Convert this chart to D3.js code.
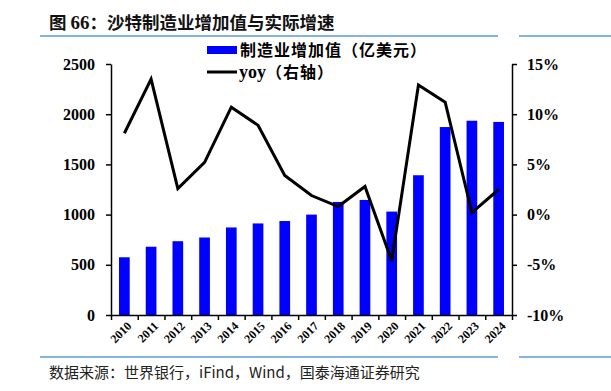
<!DOCTYPE html>
<html>
<head>
<meta charset="utf-8">
<script src="https://cdn.jsdelivr.net/npm/d3@7"></script>
<style>
  body { margin: 0; background: #fff; }
  svg { display: block; }
</style>
</head>
<body>
<svg id="chart" width="611" height="391"></svg>
<script>
// data
var years = ["2010","2011","2012","2013","2014","2015","2016","2017","2018","2019","2020","2021","2022","2023","2024"];
var addedValue = [575, 680, 735, 772, 872, 912, 936, 1000, 1126, 1146, 1030, 1392, 1872, 1935, 1923];
var yoy = [8.1, 13.5, 2.6, 5.2, 10.7, 8.9, 3.9, 1.9, 0.8, 2.8, -4.6, 12.9, 11.2, 0.2, 2.5];
var leftTicks = [0, 500, 1000, 1500, 2000, 2500];
var rightTicks = [-10, -5, 0, 5, 10, 15];

var svg = d3.select("#chart");
var plotLeft = 111, plotRight = 512, plotTop = 64, plotBottom = 315;

var x = d3.scaleBand().domain(years).range([plotLeft, plotRight]).paddingInner(0.6).paddingOuter(0.3);
var xTicks = d3.scaleLinear().domain([0, years.length]).range([plotLeft, plotRight]);
var yL = d3.scaleLinear().domain([0, 2500]).range([plotBottom, plotTop]);
var yR = d3.scaleLinear().domain([-10, 15]).range([plotBottom, plotTop]);

var numFont = "'Liberation Serif', 'Times New Roman', serif";
var cjkFont = "'Noto Sans CJK SC', sans-serif";

// title and rules
var title = svg.append("text")
	.attr("x", 49).attr("y", 29)
	.attr("font-family", cjkFont)
	.attr("font-weight", "bold")
	.attr("font-size", "17.5px")
	.attr("fill", "#111");
title.append("tspan").text("图 ");
title.append("tspan").attr("font-family", numFont).attr("font-size", "19px").text("66");
title.append("tspan").text("：沙特制造业增加值与实际增速");

[[40, 498], [519, 611]].forEach(function(seg){
	svg.append("line").attr("x1", seg[0]).attr("x2", seg[1]).attr("y1", 36).attr("y2", 36)
		.attr("stroke", "#5B9BD5").attr("stroke-width", 1.5);
	svg.append("line").attr("x1", seg[0]).attr("x2", seg[1]).attr("y1", 357).attr("y2", 357)
		.attr("stroke", "#5B9BD5").attr("stroke-width", 1.5);
});

svg.append("text")
	.attr("x", 49).attr("y", 378)
	.attr("font-family", cjkFont)
	.attr("font-size", "15px")
	.attr("fill", "#222")
	.text("数据来源：世界银行，iFind，Wind，国泰海通证券研究");

// bars
svg.selectAll(".bar").data(addedValue).enter()
	.append("rect")
	.attr("class", "bar")
	.attr("x", function(d, i){ return x(years[i]); })
	.attr("y", function(d){ return yL(d); })
	.attr("width", x.bandwidth())
	.attr("height", function(d){ return plotBottom - yL(d); })
	.attr("fill", "#0000FF");

// yoy line
var line = d3.line()
	.x(function(d, i){ return x(years[i]) + x.bandwidth() / 2; })
	.y(function(d){ return yR(d); });

svg.append("path")
	.datum(yoy)
	.attr("d", line)
	.attr("fill", "none")
	.attr("stroke", "#000")
	.attr("stroke-width", 3)
	.attr("stroke-linejoin", "miter");

// axes
function styleAxis(g){
	g.select(".domain").attr("stroke", "#000").attr("stroke-width", 1.5);
	g.selectAll(".tick line").attr("stroke", "#000").attr("stroke-width", 1.5);
	g.selectAll("text")
		.attr("font-family", numFont)
		.attr("font-weight", "bold")
		.attr("font-size", "16px")
		.attr("fill", "#000");
}

svg.append("g")
	.attr("transform", "translate(" + plotLeft + ",0)")
	.call(d3.axisLeft(yL).tickValues(leftTicks).tickSize(5).tickSizeOuter(0).tickPadding(11)
		.tickFormat(d3.format("d")))
	.call(styleAxis);

svg.append("g")
	.attr("transform", "translate(" + plotRight + ",0)")
	.call(d3.axisRight(yR).tickValues(rightTicks).tickSize(5).tickSizeOuter(0).tickPadding(10)
		.tickFormat(function(d){ return d + "%"; }))
	.call(styleAxis);

svg.append("g")
	.attr("transform", "translate(0," + plotBottom + ")")
	.call(d3.axisBottom(xTicks).tickValues(d3.range(0, years.length + 1)).tickSize(5).tickSizeOuter(0).tickFormat(""))
	.call(styleAxis);

svg.append("g").selectAll("text").data(years).enter()
	.append("text")
	.attr("transform", function(d){
		var cx = x(d) + x.bandwidth() / 2 + 5;
		return "translate(" + cx + "," + (plotBottom + 9) + ") rotate(-45)";
	})
	.attr("text-anchor", "end")
	.attr("dominant-baseline", "central")
	.attr("font-family", numFont)
	.attr("font-weight", "bold")
	.attr("font-size", "12px")
	.attr("fill", "#000")
	.text(function(d){ return d; });

// legend
var lg = svg.append("g");
lg.append("rect").attr("x", 207).attr("y", 46).attr("width", 30).attr("height", 8).attr("fill", "#0000FF");
lg.append("text").attr("x", 240).attr("y", 56)
	.attr("font-family", cjkFont).attr("font-weight", "bold").attr("font-size", "16px")
	.attr("letter-spacing", "1px").attr("fill", "#000")
	.text("制造业增加值（亿美元）");
lg.append("line").attr("x1", 207).attr("x2", 237).attr("y1", 72).attr("y2", 72)
	.attr("stroke", "#000").attr("stroke-width", 3);
var yoyLabel = lg.append("text").attr("x", 239).attr("y", 78)
	.attr("font-family", cjkFont).attr("font-weight", "bold").attr("font-size", "16px")
	.attr("letter-spacing", "1px").attr("fill", "#000");
yoyLabel.append("tspan").attr("font-family", numFont).attr("font-size", "18px").attr("letter-spacing", "0px").text("yoy");
yoyLabel.append("tspan").text("（右轴）");
</script>
</body>
</html>
